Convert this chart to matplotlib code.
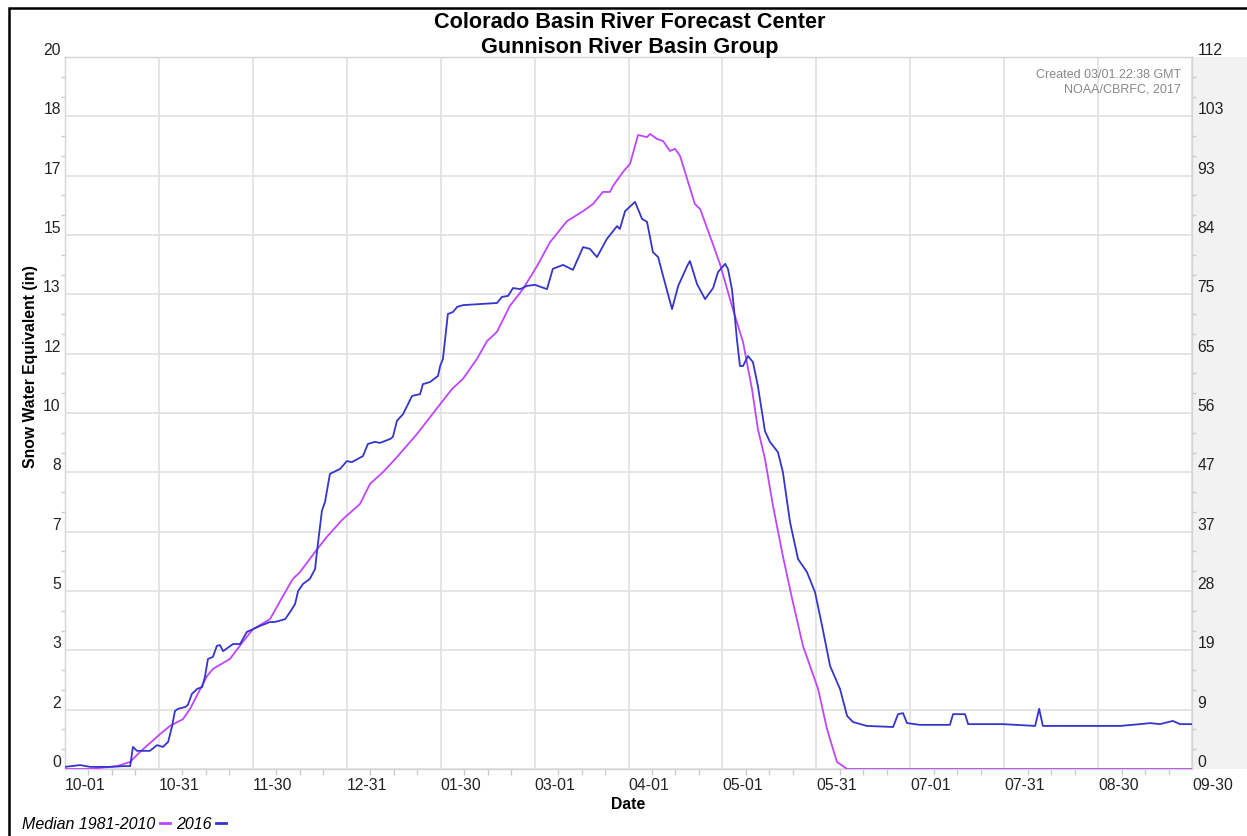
import matplotlib
matplotlib.use("Agg")
import matplotlib.pyplot as plt
from matplotlib.patches import Rectangle
from matplotlib.lines import Line2D
import numpy as np

plt.rcParams['font.family'] = ['Liberation Sans', 'DejaVu Sans']

# ---------------- data (days since 10-01, inches SWE) ----------------
x_tick_labels = ["10-01", "10-31", "11-30", "12-31", "01-30", "03-01", "04-01",
                 "05-01", "05-31", "07-01", "07-31", "08-30", "09-30"]
left_tick_labels = ["0", "2", "3", "5", "7", "8", "10", "12", "13", "15", "17", "18", "20"]
right_tick_labels = ["0", "9", "19", "28", "37", "47", "56", "65", "75", "84", "93", "103", "112"]

days_2016 = [0, 4.9, 8.1, 14.6, 18.8, 21.1, 22.0, 23.3, 27.5, 29.8, 31.7, 33.4, 34.7, 35.6,
             36.6, 38.9, 39.8, 41.1, 42.8, 44.4, 45.3, 46.3, 47.9, 49.2, 50.2, 51.2, 54.4,
             56.7, 58.9, 60.9, 63.2, 66.4, 68.0, 71.3, 72.9, 74.5, 75.5, 77.1, 79.3, 81.0,
             81.6, 82.6, 83.2, 84.2, 85.8, 89.1, 91.3, 92.9, 96.5, 98.1, 100.4, 102.0, 105.3,
             106.2, 107.5, 109.5, 112.4, 115.0, 115.9, 118.2, 120.8, 121.5, 122.4, 124.0,
             125.7, 127.0, 128.9, 134.4, 139.9, 141.5, 143.5, 145.1, 147.4, 149.6, 152.2,
             156.1, 158.0, 161.3, 164.5, 167.8, 170.0, 172.3, 175.5, 178.8, 179.7, 181.4,
             184.6, 186.9, 188.5, 190.4, 192.1, 193.7, 196.6, 198.6, 201.5, 202.4, 204.7,
             207.3, 209.9, 211.5, 213.8, 214.7, 216.0, 217.0, 217.6, 218.6, 219.6, 221.2,
             222.8, 224.4, 226.7, 228.3, 230.9, 232.5, 234.8, 237.4, 240.3, 242.9, 245.2,
             247.8, 251.0, 253.3, 255.2, 259.7, 268.2, 269.8, 271.4, 272.7, 276.9, 286.6,
             287.6, 291.5, 292.5, 303.8, 314.2, 315.5, 316.7, 331.0, 341.7, 348.2, 351.4,
             354.6, 358.8, 361.1, 365]
swe_2016 = [0.06, 0.11, 0.06, 0.06, 0.08, 0.08, 0.62, 0.51, 0.51, 0.67, 0.62, 0.76, 1.21, 1.63,
            1.69, 1.74, 1.80, 2.11, 2.25, 2.30, 2.58, 3.09, 3.15, 3.46, 3.48, 3.31, 3.51,
            3.51, 3.85, 3.93, 4.02, 4.13, 4.13, 4.21, 4.41, 4.63, 5.00, 5.20, 5.34, 5.62,
            6.10, 6.83, 7.25, 7.50, 8.29, 8.43, 8.65, 8.62, 8.79, 9.13, 9.19, 9.16, 9.27,
            9.33, 9.78, 9.97, 10.48, 10.53, 10.81, 10.87, 11.04, 11.32, 11.52, 12.78,
            12.84, 12.98, 13.03, 13.06, 13.09, 13.26, 13.29, 13.51, 13.48, 13.57, 13.60,
            13.48, 14.05, 14.16, 14.02, 14.66, 14.61, 14.38, 14.89, 15.25, 15.17, 15.67,
            15.93, 15.45, 15.37, 14.52, 14.38, 13.85, 12.92, 13.57, 14.13, 14.27, 13.62,
            13.20, 13.51, 13.96, 14.19, 14.05, 13.48, 12.64, 12.08, 11.32, 11.32, 11.60,
            11.43, 10.76, 9.49, 9.19, 8.90, 8.34, 6.94, 5.90, 5.53, 4.97, 4.02,
            2.89, 2.25, 1.49, 1.32, 1.21, 1.18, 1.54, 1.57, 1.29, 1.24, 1.24,
            1.54, 1.54, 1.26, 1.26, 1.21, 1.69, 1.21, 1.21, 1.21, 1.26, 1.29,
            1.26, 1.35, 1.26, 1.26]

days_median = [0, 8.1, 16.8, 21.1, 24.3, 30.8, 34.0, 38.2, 40.5, 46.0, 47.9, 53.4, 57.6, 60.9,
               66.4, 70.6, 73.8, 76.1, 81.0, 84.8, 90.0, 95.5, 98.8, 103.0, 107.5, 114.0,
               120.8, 125.3, 128.9, 133.4, 136.7, 139.9, 144.1, 148.3, 152.9, 157.1, 162.6,
               167.8, 171.0, 174.2, 176.5, 177.5, 180.7, 183.0, 185.6, 188.5, 189.5, 191.7,
               193.7, 195.9, 197.6, 199.2, 204.0, 205.7, 208.9, 212.1, 216.3, 219.6, 222.5,
               224.4, 226.7, 229.3, 232.5, 235.5, 239.0, 243.9, 246.8, 250.0, 253.3, 365]
swe_median = [0, 0, 0.08, 0.20, 0.48, 0.98, 1.21, 1.40, 1.69, 2.61, 2.81, 3.09, 3.57, 3.93,
              4.21, 4.86, 5.34, 5.53, 6.10, 6.52, 7.02, 7.44, 8.01, 8.34, 8.76, 9.41,
              10.17, 10.67, 10.96, 11.52, 12.02, 12.28, 13.01, 13.48, 14.13, 14.80, 15.39,
              15.67, 15.87, 16.21, 16.21, 16.38, 16.77, 17.00, 17.81, 17.75, 17.84, 17.70,
              17.64, 17.36, 17.42, 17.22, 15.87, 15.73, 14.97, 14.19, 12.92, 11.99, 10.67,
              9.55, 8.71, 7.39, 5.98, 4.78, 3.46, 2.25, 1.12, 0.20, 0, 0]

# ---------------- figure ----------------
W, H = 1247, 837
fig = plt.figure(figsize=(W / 100, H / 100), dpi=100)
fig.patch.set_facecolor('white')

L, R, T, B = 65, 1192, 58, 770
ax = fig.add_axes([L / W, 1 - B / H, (R - L) / W, (B - T) / H])

# gray strip behind right axis
fig.patches.append(Rectangle((R / W, 1 - B / H), (W - R) / W, (B - T) / H,
                             transform=fig.transFigure, facecolor='#f2f2f2',
                             edgecolor='none', zorder=-5))
# outer frame
fig.patches.append(Rectangle((8.5 / W, -0.05), 1.2, 1 - 8.5 / H + 0.05,
                             transform=fig.transFigure, fill=False,
                             edgecolor='black', linewidth=1.8, zorder=10))

magenta = '#bf45ff'
blue = '#3535cc'

ax.plot(days_median, swe_median, color=magenta, lw=1.3, zorder=3)
ax.plot(days_2016, swe_2016, color=blue, lw=1.3, zorder=4)

ax.set_xlim(0, 365)
ax.set_ylim(0, 20)

xt = np.linspace(0, 365, 13)
ax.set_xticks(xt)
ax.set_xticklabels(x_tick_labels, ha='left', fontsize=11.3, color='#222222')
ax.set_xticks(np.linspace(0, 365, 49), minor=True)
ax.tick_params(axis='x', which='major', length=0, pad=6)
ax.tick_params(axis='x', which='minor', length=4, color='#cccccc', width=1)

yt = np.linspace(0, 20, 13)
ax.set_yticks(yt)
ax.set_yticklabels(left_tick_labels, fontsize=11.3, color='#222222')
for t in ax.get_yticklabels():
    t.set_va('bottom')
ax.set_yticks(np.linspace(0, 20, 37), minor=True)
ax.tick_params(axis='y', which='major', length=0, pad=3)
ax.tick_params(axis='y', which='minor', length=3, color='#cccccc', width=1)

ax.grid(True, which='major', color='#e0e0e0', lw=1.2)
ax.set_axisbelow(True)
for s in ax.spines.values():
    s.set_color('#d5d5d5')
    s.set_linewidth(1.0)

ax2 = ax.twinx()
ax2.set_ylim(0, 112)
ax2.set_yticks(np.linspace(0, 112, 13))
ax2.set_yticklabels(right_tick_labels, fontsize=11.3, color='#222222')
for t in ax2.get_yticklabels():
    t.set_va('bottom')
ax2.set_yticks(np.linspace(0, 112, 37), minor=True)
ax2.tick_params(axis='y', which='major', length=0, pad=4)
ax2.tick_params(axis='y', which='minor', length=3, color='#cccccc', width=1)
for s in ax2.spines.values():
    s.set_visible(False)

# titles and labels
fig.text(630 / W, 1 - 22 / H, "Colorado Basin River Forecast Center", ha='center',
         va='center', fontsize=15.6, fontweight='bold')
fig.text(630 / W, 1 - 47.5 / H, "Gunnison River Basin Group", ha='center',
         va='center', fontsize=15.6, fontweight='bold')
ax.set_xlabel("Date", fontsize=11.3, fontweight='bold', labelpad=3)
ax.set_ylabel("Snow Water Equivalent (in)", fontsize=11.3, fontweight='bold')
ax.yaxis.set_label_coords(-0.024, 0.567)

ax.text(0.990, 0.985, "Created 03/01.22:38 GMT\nNOAA/CBRFC, 2017", transform=ax.transAxes,
        ha='right', va='top', fontsize=9, color='#888888', linespacing=1.3)

handles = [Line2D([], [], color=magenta, lw=2), Line2D([], [], color=blue, lw=2)]
fig.legend(handles, ["Median 1981-2010", "2016"], loc='lower left',
           bbox_to_anchor=(14 / W, -0.004), ncol=2, markerfirst=False, frameon=False,
           handlelength=0.6, handletextpad=0.3, columnspacing=0.4,
           prop={'style': 'italic', 'size': 11.5}, borderaxespad=0.1)

fig.savefig("out.png", dpi=100)
